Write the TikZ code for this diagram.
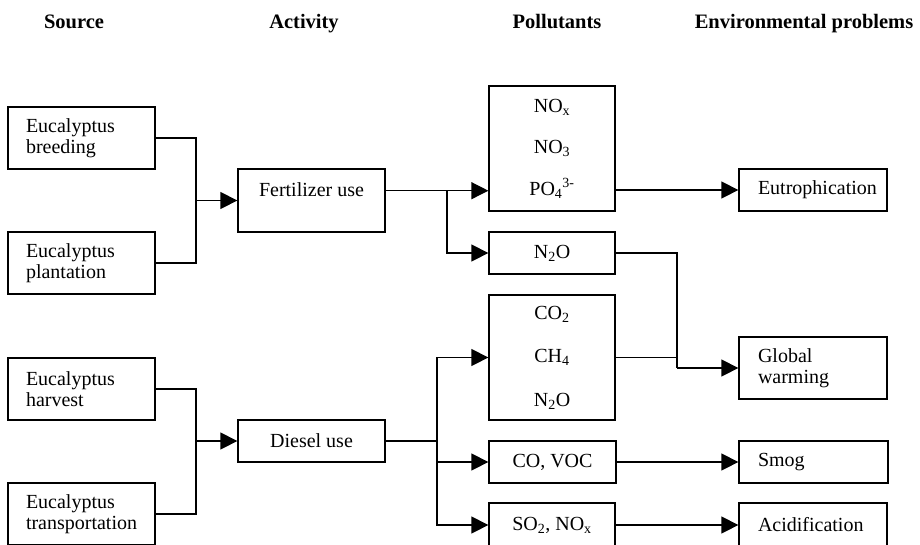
\documentclass[tikz,border=0pt]{standalone}
\usepackage{fontspec}
\setmainfont{Liberation Serif}
\usetikzlibrary{arrows.meta}
\tikzset{
  box/.style={draw, line width=1.3pt, inner sep=0pt, font=\fontsize{20}{21}\selectfont},
  conn/.style={line width=1.3pt},
  arr/.style={line width=1.3pt, -{Triangle[length=17pt,width=17pt]}},
  head/.style={font=\fontsize{20.5}{22}\selectfont\bfseries, inner sep=0pt, anchor=base},
  txt/.style={font=\fontsize{20}{21}\selectfont, inner sep=0pt}
}
\newcommand\cbox[7]{%
  \pgfmathsetmacro\cx{(#2+#4)/2}\pgfmathsetmacro\cy{(#3+#5)/2}%
  \pgfmathsetmacro\ww{#4-#2}\pgfmathsetmacro\hh{#5-#3}%
  \node[box, minimum width=\ww pt, minimum height=\hh pt, align=center, #6] (#1) at (\cx,\cy) {#7};}
\newcommand\lbox[7]{%
  \pgfmathsetmacro\cx{(#2+#4)/2}\pgfmathsetmacro\cy{(#3+#5)/2}%
  \pgfmathsetmacro\ww{#4-#2}\pgfmathsetmacro\hh{#5-#3}%
  \pgfmathsetmacro\tw{#4-#2-2*#6}%
  \node[box, minimum width=\ww pt, minimum height=\hh pt, text width=\tw pt, inner xsep=#6pt, align=left] (#1) at (\cx,\cy) {#7};}
\begin{document}
\begin{tikzpicture}[x=1pt,y=-1pt]
\clip (0,0) rectangle (920,544);
\fill[white] (0,0) rectangle (920,544);
% headers
\node[head] (h1) at (74,28) {Source};
\node[head] (h2) at (304,28) {Activity};
\node[head] (h3) at (557,28) {Pollutants};
\node[head] (h4) at (804,28) {Environmental problems};
% sources
\lbox{breed}{8}{107}{155}{169}{18}{Eucalyptus\\breeding}
\lbox{plant}{8}{232}{155}{294}{18}{Eucalyptus\\plantation}
\lbox{harv}{8}{358}{155}{420}{18}{Eucalyptus\\harvest}
\lbox{trans}{8}{483}{155}{545}{18}{Eucalyptus\\transportation}
% activities
\cbox{fert}{238}{169}{385}{232}{}{}
\node[txt] (fertt) at (311.5,190) {Fertilizer use};
\cbox{diesel}{238}{420}{385}{462}{}{Diesel use}
% pollutants
\cbox{p1}{489}{86}{615}{211}{font=\fontsize{20}{41.5}\selectfont}{NO\textsubscript{x}\\NO\textsubscript{3}\\PO\textsubscript{4}\textsuperscript{3-}}
\cbox{n2o}{489}{232}{615}{274}{}{N\textsubscript{2}O}
\cbox{p3}{489}{295}{615}{420}{font=\fontsize{20}{43.5}\selectfont}{CO\textsubscript{2}\\CH\textsubscript{4}\\N\textsubscript{2}O}
\cbox{covoc}{489}{441}{616}{483}{}{CO, VOC}
\cbox{so2}{489}{503}{615}{547}{}{SO\textsubscript{2}, NO\textsubscript{x}}
% problems
\lbox{eut}{739}{169}{887}{211}{19}{Eutrophication}
\lbox{glob}{739}{337}{887}{399}{19}{Global\\warming}
\lbox{smog}{739}{441}{888}{483}{19}{Smog}
\lbox{acid}{739}{503}{887}{547}{19}{Acidification}
% junctions
\coordinate (j1) at (196,200.5);
\coordinate (j5) at (196,441);
\coordinate (j2) at (447,190.7);
\coordinate (j3) at (677,368);
\coordinate (j4) at (437,441);
% source -> activity
\draw[conn] (breed.east) -| (j1) |- (plant.east);
\draw[arr] (j1) -- (fert.west);
\draw[conn] (harv.east) -| (j5) |- (trans.east);
\draw[arr] (j5) -- (diesel.west);
% fertilizer
\draw[arr] (fert.east |- j2) -- (p1.west |- j2);
\draw[arr] (j2) |- (n2o.west);
% diesel
\draw[conn] (diesel.east) -- (j4);
\draw[arr] (j4) |- (p3.west);
\draw[arr] (j4) |- (covoc.west);
\draw[arr] (j4) |- (so2.west);
% pollutants -> problems
\draw[arr] (p1.east |- eut.west) -- (eut.west);
\draw[conn] (n2o.east) -| (j3);
\draw[conn] (p3.east) -- (p3.east -| j3);
\draw[arr] (j3) -- (glob.west);
\draw[arr] (covoc.east) -- (smog.west);
\draw[arr] (so2.east) -- (acid.west);
\end{tikzpicture}
\end{document}
